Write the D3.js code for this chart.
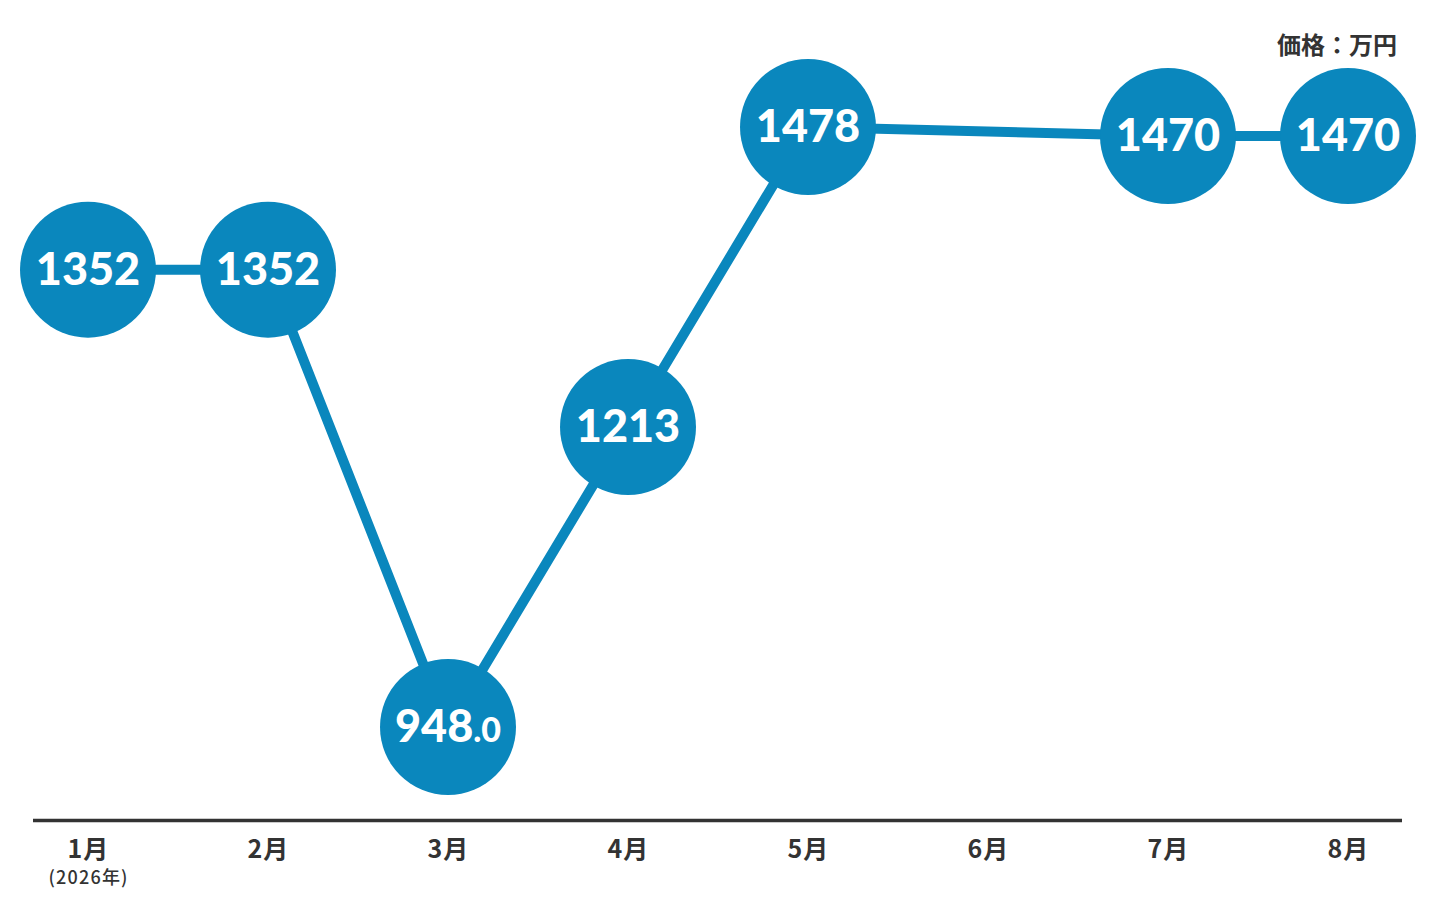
<!DOCTYPE html>
<html><head><meta charset="utf-8">
<script src="https://cdn.jsdelivr.net/npm/d3@7/dist/d3.min.js"></script>
<style>
html,body{margin:0;padding:0;background:#fff;}
svg{display:block;}
</style></head>
<body>
<svg id="chart" width="1436" height="914"></svg>
<script>
const months = ["1月","2月","3月","4月","5月","6月","7月","8月"];
const prices = [1352, 1352, 948.0, 1213, 1478, null, 1470, 1470];
const priceLabels = ["1352","1352","948.0","1213","1478",null,"1470","1470"];
const yearNote = "(2026年)";
const unitLabel = "価格：万円";

const svg = d3.select("#chart");
const blue = "#0a87bd";
const dark = "#333333";

const x = d3.scalePoint().domain(months).range([88, 1348]);
const y = d3.scaleLinear().domain([948, 1478]).range([727, 127]);

const pts = months.map((m,i)=>({m, v:prices[i], label:priceLabels[i]})).filter(d=>d.v!=null);

// axis line
svg.append("line")
  .attr("x1", 33).attr("x2", 1402)
  .attr("y1", 820.5).attr("y2", 820.5)
  .attr("stroke", dark).attr("stroke-width", 3.5);

// month labels
svg.selectAll("text.month").data(months).enter().append("text")
  .attr("class","month")
  .attr("x", d=>x(d) + 0.5).attr("y", 858)
  .attr("text-anchor","middle")
  .attr("font-family","'Noto Sans CJK JP','Noto Sans',sans-serif")
  .attr("font-weight",700).attr("font-size",25)
  .attr("letter-spacing",1)
  .attr("fill", dark)
  .text(d=>d);

svg.append("text")
  .attr("x", x(months[0]) + 0.6).attr("y", 884)
  .attr("text-anchor","middle")
  .attr("font-family","'Noto Sans CJK JP','Noto Sans',sans-serif")
  .attr("font-weight",500).attr("font-size",18)
  .attr("letter-spacing",1.2)
  .attr("fill", dark)
  .text(yearNote);

svg.append("text")
  .attr("x", 1397).attr("y", 54)
  .attr("text-anchor","end")
  .attr("font-family","'Noto Sans CJK JP','Noto Sans',sans-serif")
  .attr("font-weight",700).attr("font-size",24)
  .attr("fill", dark)
  .text(unitLabel);

// line
const line = d3.line().x(d=>x(d.m)).y(d=>y(d.v));
svg.append("path").datum(pts)
  .attr("d", line)
  .attr("fill","none").attr("stroke", blue).attr("stroke-width", 10);

// circles
const g = svg.selectAll("g.pt").data(pts).enter().append("g")
  .attr("transform", d=>`translate(${x(d.m)},${y(d.v)})`);
g.append("circle").attr("r", 68).attr("fill", blue);
g.each(function(d){
  const t = d3.select(this).append("text")
    .attr("text-anchor","middle")
    .attr("y", 15)
    .attr("font-family","Lato, 'Open Sans', sans-serif")
    .attr("font-weight",900)
    .attr("font-size",45)
    .attr("fill","#fff");
  const parts = d.label.split(".");
  t.append("tspan").text(parts[0]);
  if (parts.length>1) t.append("tspan").attr("font-size",34).text("."+parts[1]);
});
</script>
</body></html>
